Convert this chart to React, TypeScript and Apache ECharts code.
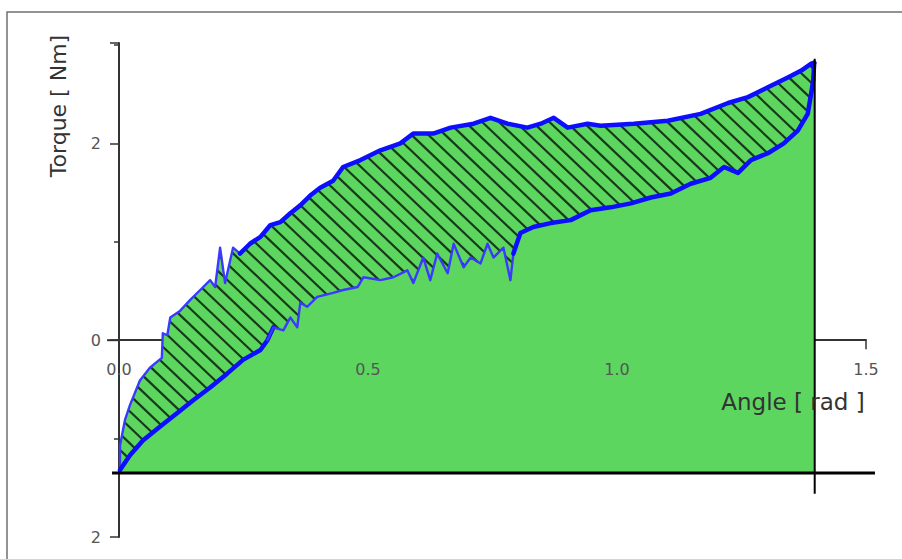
import React, { useEffect, useRef } from "react";
import * as echarts from "echarts";

// Loading branch (upper curve), angle in rad, torque in Nm
const loadingAngle = [
  0.002, 0.002, 0.012, 0.022, 0.042, 0.062, 0.086, 0.088, 0.097, 0.103, 0.123, 0.143, 0.163,
  0.183, 0.193, 0.203, 0.213, 0.229, 0.243, 0.263, 0.284, 0.304, 0.324, 0.344, 0.364, 0.384,
  0.404, 0.43, 0.45, 0.485, 0.525, 0.565, 0.591, 0.631, 0.666, 0.712, 0.746, 0.78, 0.82, 0.847,
  0.873, 0.901, 0.941, 0.967, 1.034, 1.102, 1.168, 1.223, 1.263, 1.303, 1.343, 1.37, 1.39, 1.396,
];
const loadingTorque = [
  -1.3, -1.07, -0.81, -0.66, -0.41, -0.28, -0.18, 0.07, 0.05, 0.23, 0.3, 0.41, 0.51, 0.61, 0.54,
  0.94, 0.58, 0.94, 0.88, 0.98, 1.05, 1.17, 1.2, 1.29, 1.37, 1.47, 1.55, 1.62, 1.76, 1.83, 1.93,
  2.0, 2.1, 2.1, 2.16, 2.2, 2.26, 2.2, 2.16, 2.2, 2.26, 2.16, 2.2, 2.18, 2.2, 2.23, 2.3, 2.41,
  2.47, 2.57, 2.67, 2.74, 2.81, 2.82,
];

// Unloading branch (lower curve), listed by increasing angle
const unloadingAngle = [
  0.002, 0.022, 0.048, 0.082, 0.117, 0.149, 0.183, 0.217, 0.249, 0.284, 0.298, 0.31, 0.33, 0.344,
  0.358, 0.364, 0.378, 0.398, 0.43, 0.45, 0.479, 0.491, 0.525, 0.551, 0.579, 0.591, 0.611, 0.625,
  0.639, 0.66, 0.672, 0.692, 0.706, 0.726, 0.74, 0.752, 0.772, 0.786, 0.792, 0.806, 0.832, 0.867,
  0.907, 0.947, 0.987, 1.028, 1.068, 1.108, 1.148, 1.188, 1.215, 1.243, 1.269, 1.303, 1.335,
  1.363, 1.383, 1.39, 1.394, 1.396,
];
const unloadingTorque = [
  -1.32, -1.17, -1.02, -0.88, -0.74, -0.61, -0.48, -0.34, -0.2, -0.1, 0.0, 0.13, 0.1, 0.23, 0.13,
  0.38, 0.34, 0.44, 0.48, 0.51, 0.54, 0.64, 0.61, 0.64, 0.71, 0.58, 0.84, 0.61, 0.88, 0.68, 0.98,
  0.74, 0.84, 0.78, 0.98, 0.84, 0.94, 0.61, 0.88, 1.09, 1.15, 1.19, 1.22, 1.32, 1.35, 1.39, 1.45,
  1.49, 1.59, 1.65, 1.76, 1.7, 1.83, 1.9, 2.0, 2.13, 2.3, 2.51, 2.64, 2.82,
];

// Reference lines
const baseTorque = -1.35;
const baseLineAngles = [-0.014, 1.518];
const endAngle = 1.397;
const endLineTorques = [2.86, -1.56];
const xAxisLeadAngle = -0.024;

// Axis labels
const xTickValues = [0, 0.5, 1.0, 1.5];
const xTickLabels = ["0.0", "0.5", "1.0", "1.5"];
const yTickValues = [2, 0, -2];
const yTickLabels = ["2", "0", "2"];

const GREEN = "#5dd660";
const BLUE = "#0d0dff";
const BLUE_THIN = "#3a3aff";
const HATCH = "#173a18";
const FONT = "DejaVu Sans";

type Pt = [number, number];

const zip = (a: number[], b: number[]): Pt[] => a.map((v, i) => [v, b[i]]);
const loading = zip(loadingAngle, loadingTorque);
const unloading = zip(unloadingAngle, unloadingTorque);

// Slice a curve to an angle window, keeping neighbours so pieces join up
function piece(pts: Pt[], lo: number, hi: number): Pt[] {
  const idx: number[] = [];
  pts.forEach((p, i) => {
    if (p[0] >= lo && p[0] <= hi) idx.push(i);
  });
  if (!idx.length) return [];
  const s = Math.max(0, idx[0] - 1);
  const e = Math.min(pts.length - 1, idx[idx.length - 1] + 1);
  return pts.slice(s, e + 1);
}

// Parallel diagonal hatch segments clipped to a polygon in pixel space
function hatchSegments(poly: number[][], slope: number, step: number) {
  const cs = poly.map((p) => p[1] - slope * p[0]);
  const cMin = Math.min(...cs);
  const cMax = Math.max(...cs);
  const segs: number[][] = [];
  for (let c = Math.ceil(cMin / step) * step; c <= cMax; c += step) {
    const xs: number[] = [];
    for (let i = 0; i < poly.length; i++) {
      const a = poly[i];
      const b = poly[(i + 1) % poly.length];
      const fa = a[1] - slope * a[0] - c;
      const fb = b[1] - slope * b[0] - c;
      if ((fa < 0 && fb >= 0) || (fa >= 0 && fb < 0)) {
        const t = fa / (fa - fb);
        xs.push(a[0] + t * (b[0] - a[0]));
      }
    }
    xs.sort((m, n) => m - n);
    for (let k = 0; k + 1 < xs.length; k += 2) {
      segs.push([xs[k], slope * xs[k] + c, xs[k + 1], slope * xs[k + 1] + c]);
    }
  }
  return segs;
}

function lineSeries(data: Pt[], width: number, color: string) {
  return {
    type: "line",
    data,
    showSymbol: false,
    symbol: "none",
    z: 5,
    lineStyle: { width, color, join: "round", cap: "round" },
  };
}

export default function App() {
  const ref = useRef<HTMLDivElement>(null);

  useEffect(() => {
    if (!ref.current) return;
    const chart = echarts.init(ref.current, null, { renderer: "svg" });

    const option: any = {
      animation: false,
      backgroundColor: "#ffffff",
      grid: {
        left: 119,
        right: 36,
        top: 43,
        bottom: 22,
        containLabel: false,
        outerBoundsMode: "none",
      },
      xAxis: {
        type: "value",
        min: 0,
        max: 1.5,
        interval: 0.5,
        axisLine: { onZero: true, lineStyle: { color: "#333", width: 2 } },
        axisTick: { show: true, length: 9, lineStyle: { color: "#333", width: 1.5 } },
        minorTick: { show: true, splitNumber: 2, length: 5, lineStyle: { color: "#333", width: 1.5 } },
        splitLine: { show: false },
        axisLabel: { show: false },
      },
      yAxis: {
        type: "value",
        min: -2,
        max: 3.02,
        interval: 2,
        axisLine: { onZero: true, lineStyle: { color: "#333", width: 2 } },
        axisTick: { show: true, length: 9, lineStyle: { color: "#333", width: 1.5 } },
        minorTick: { show: true, splitNumber: 2, length: 5, lineStyle: { color: "#333", width: 1.5 } },
        splitLine: { show: false },
        axisLabel: {
          margin: 18,
          fontFamily: FONT,
          fontSize: 16,
          color: "#555",
          formatter: (v: number) => {
            const i = yTickValues.findIndex((t) => Math.abs(t - v) < 1e-6);
            return i >= 0 ? yTickLabels[i] : "";
          },
        },
      },
      graphic: [
        {
          type: "rect",
          shape: { x: 7, y: 12, width: 1000, height: 1000 },
          style: { fill: "none", stroke: "#707070", lineWidth: 1.5 },
          silent: true,
          z: 100,
        },
        {
          type: "text",
          x: 58,
          y: 106,
          rotation: Math.PI / 2,
          style: {
            text: "Torque [ Nm]",
            fontFamily: FONT,
            fontSize: 22,
            fill: "#333",
            align: "center",
            verticalAlign: "middle",
          },
          z: 100,
        },
        {
          type: "text",
          x: 793,
          y: 402,
          style: {
            text: "Angle [ rad ]",
            fontFamily: FONT,
            fontSize: 23,
            fill: "#333",
            align: "center",
            verticalAlign: "middle",
          },
          z: 100,
        },
      ],
      series: [
        {
          // green area under the loading branch, hatched loop between branches
          type: "custom",
          coordinateSystem: "cartesian2d",
          data: [[0, 0]],
          z: 1,
          silent: true,
          renderItem: (_params: any, api: any) => {
            const up = loading.map((p) => api.coord(p));
            const low = unloading.map((p) => api.coord(p));
            const b0 = api.coord([0, baseTorque]);
            const b1 = api.coord([endAngle, baseTorque]);
            const fillPts = [b0, ...up, b1];
            const loop = [...up, ...low.slice().reverse()];
            const segs = hatchSegments(loop, 0.95, 16);
            return {
              type: "group",
              children: [
                { type: "polygon", shape: { points: fillPts }, style: { fill: GREEN } },
                ...segs.map((s) => ({
                  type: "line",
                  shape: { x1: s[0], y1: s[1], x2: s[2], y2: s[3] },
                  style: { stroke: HATCH, lineWidth: 2.2 },
                })),
              ],
            };
          },
        },
        lineSeries(piece(loading, 0, 0.26), 2.4, BLUE_THIN),
        lineSeries(piece(loading, 0.26, 1.4), 4.5, BLUE),
        lineSeries(piece(unloading, 0, 0.3), 4.5, BLUE),
        lineSeries(piece(unloading, 0.3, 0.8), 2.4, BLUE_THIN),
        lineSeries(piece(unloading, 0.8, 1.4), 4.5, BLUE),
        {
          // base line, end-of-stroke line, axis stub left of the origin, x tick labels
          type: "custom",
          coordinateSystem: "cartesian2d",
          data: [[0, 0]],
          z: 6,
          clip: false,
          silent: true,
          renderItem: (_params: any, api: any) => {
            const a0 = api.coord([baseLineAngles[0], baseTorque]);
            const a1 = api.coord([baseLineAngles[1], baseTorque]);
            const v0 = api.coord([endAngle, endLineTorques[0]]);
            const v1 = api.coord([endAngle, endLineTorques[1]]);
            const s0 = api.coord([xAxisLeadAngle, 0]);
            const s1 = api.coord([0, 0]);
            const labels = xTickValues.map((v, i) => {
              const p = api.coord([v, 0]);
              return {
                type: "text",
                x: p[0],
                y: p[1] + 21,
                z2: 0,
                style: {
                  text: xTickLabels[i],
                  fontFamily: FONT,
                  fontSize: 16,
                  fill: "#555",
                  align: "center",
                  verticalAlign: "top",
                },
              };
            });
            return {
              type: "group",
              children: [
                {
                  type: "line",
                  shape: { x1: a0[0], y1: a0[1], x2: a1[0], y2: a1[1] },
                  style: { stroke: "#000", lineWidth: 3 },
                },
                {
                  type: "line",
                  shape: { x1: v0[0], y1: v0[1], x2: v1[0], y2: v1[1] },
                  style: { stroke: "#000", lineWidth: 2 },
                },
                {
                  type: "line",
                  shape: { x1: s0[0], y1: s0[1], x2: s1[0], y2: s1[1] },
                  style: { stroke: "#333", lineWidth: 2 },
                },
                ...labels,
              ],
            };
          },
        },
      ],
    };

    chart.setOption(option);
    return () => chart.dispose();
  }, []);

  return (
    <div
      ref={ref}
      style={{ position: "fixed", left: 0, top: 0, width: 902, height: 559, background: "#fff" }}
    />
  );
}
